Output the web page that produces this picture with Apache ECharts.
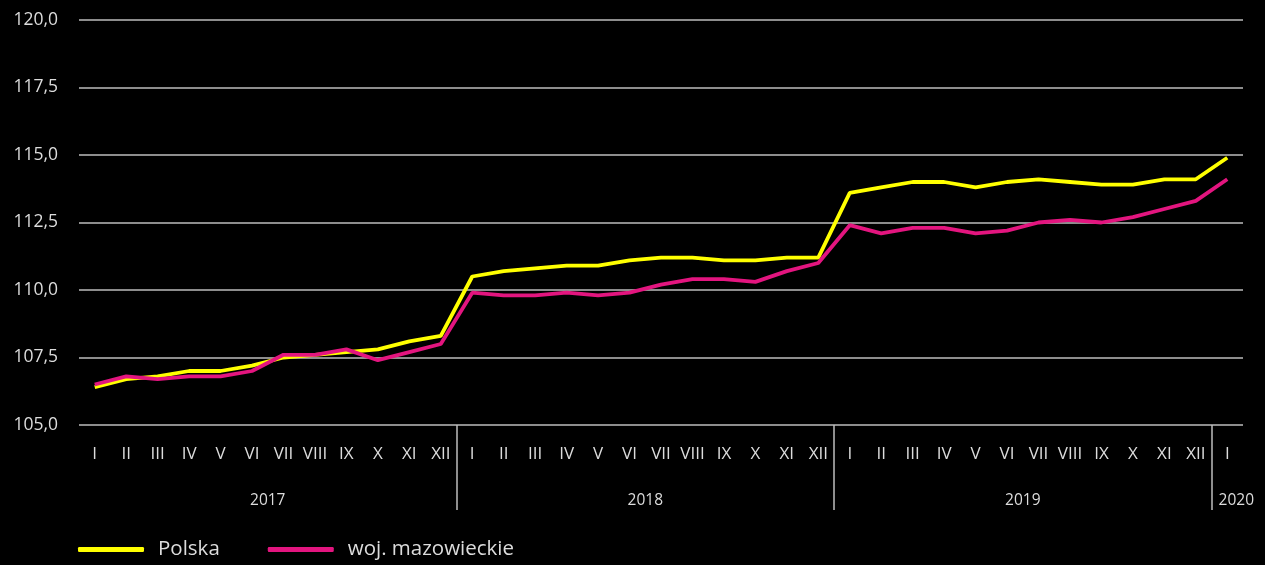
<!DOCTYPE html>
<html>
<head>
<meta charset="utf-8">
<script src="https://cdn.jsdelivr.net/npm/echarts@6/dist/echarts.min.js"></script>
<style>
  html, body { margin: 0; padding: 0; background: #000; }
  #chart { width: 1265px; height: 565px; }
</style>
</head>
<body>
<div id="chart"></div>
<script>
// miesiące: 2017-01 .. 2020-01
const monthNames = ['I', 'II', 'III', 'IV', 'V', 'VI', 'VII', 'VIII', 'IX', 'X', 'XI', 'XII'];
const years = ['2017', '2018', '2019', '2020'];
const monthsPerYear = [12, 12, 12, 1];

const polska = [
  106.4, 106.7, 106.8, 107.0, 107.0, 107.2, 107.5, 107.6, 107.7, 107.8, 108.1, 108.3,
  110.5, 110.7, 110.8, 110.9, 110.9, 111.1, 111.2, 111.2, 111.1, 111.1, 111.2, 111.2,
  113.6, 113.8, 114.0, 114.0, 113.8, 114.0, 114.1, 114.0, 113.9, 113.9, 114.1, 114.1,
  114.9
];
const mazowieckie = [
  106.5, 106.8, 106.7, 106.8, 106.8, 107.0, 107.6, 107.6, 107.8, 107.4, 107.7, 108.0,
  109.9, 109.8, 109.8, 109.9, 109.8, 109.9, 110.2, 110.4, 110.4, 110.3, 110.7, 111.0,
  112.4, 112.1, 112.3, 112.3, 112.1, 112.2, 112.5, 112.6, 112.5, 112.7, 113.0, 113.3,
  114.1
];

const categories = [];
monthsPerYear.forEach(n => {
  for (let i = 0; i < n; i++) categories.push(monthNames[i]);
});

// granice lat i środki etykiet lat
const yearBounds = [];
const yearCenters = [];
let acc = 0;
monthsPerYear.forEach((n, i) => {
  yearCenters.push(acc + n / 2);
  acc += n;
  if (i < monthsPerYear.length - 1) yearBounds.push(acc);
});

const textColor = '#dcdcdc';
const gridColor = '#bdbdbd';
const fontFamily = '"Open Sans", "Noto Sans", sans-serif';

const myChart = echarts.init(document.getElementById('chart'));

const option = {
  backgroundColor: '#000',
  animation: false,
  textStyle: { fontFamily: fontFamily },
  grid: {
    left: 79,
    right: 22,
    top: 20,
    bottom: 140
  },
  legend: {
    left: 73,
    bottom: 0,
    itemWidth: 66,
    itemHeight: 5,
    itemGap: 48,
    icon: 'roundRect',
    textStyle: {
      color: textColor,
      fontSize: 20.5,
      padding: [0, 0, 0, 9]
    },
    data: ['Polska', 'woj. mazowieckie']
  },
  xAxis: [
    {
      type: 'category',
      data: categories,
      boundaryGap: true,
      axisLine: { show: false },
      axisTick: { show: false },
      axisLabel: {
        interval: 0,
        color: textColor,
        fontSize: 17,
        margin: 21
      }
    },
    {
      // oś pomocnicza: separatory lat i etykiety lat
      type: 'value',
      position: 'bottom',
      min: 0,
      max: categories.length,
      axisLine: { show: false },
      splitLine: { show: false },
      axisTick: {
        show: true,
        customValues: yearBounds,
        length: 85,
        lineStyle: { color: gridColor, width: 1.5 }
      },
      axisLabel: {
        customValues: yearCenters,
        color: textColor,
        fontSize: 15.5,
        margin: 68,
        formatter: function (v) {
          const i = yearCenters.indexOf(v);
          if (i < 0) return '';
          // krótki rok (1 miesiąc) - etykieta przesunięta w prawo od separatora
          return monthsPerYear[i] < 2 ? '{short|' + years[i] + '}' : years[i];
        },
        rich: {
          short: {
            color: textColor,
            fontSize: 15.5,
            padding: [0, 0, 0, 18]
          }
        }
      }
    }
  ],
  yAxis: {
    type: 'value',
    min: 105,
    max: 120,
    interval: 2.5,
    axisLine: { show: false },
    axisTick: { show: false },
    splitLine: { lineStyle: { color: gridColor, width: 1.5 } },
    axisLabel: {
      color: textColor,
      fontSize: 17.5,
      margin: 21,
      formatter: function (v) {
        return v.toFixed(1).replace('.', ',');
      }
    }
  },
  series: [
    {
      name: 'Polska',
      type: 'line',
      data: polska,
      symbol: 'none',
      lineStyle: { color: '#ffff00', width: 3.8 },
      itemStyle: { color: '#ffff00' },
      z: 3
    },
    {
      name: 'woj. mazowieckie',
      type: 'line',
      data: mazowieckie,
      symbol: 'none',
      lineStyle: { color: '#e3157f', width: 3.8 },
      itemStyle: { color: '#e3157f' },
      z: 4
    }
  ]
};

myChart.setOption(option);
window.addEventListener('resize', () => myChart.resize());
</script>
</body>
</html>
